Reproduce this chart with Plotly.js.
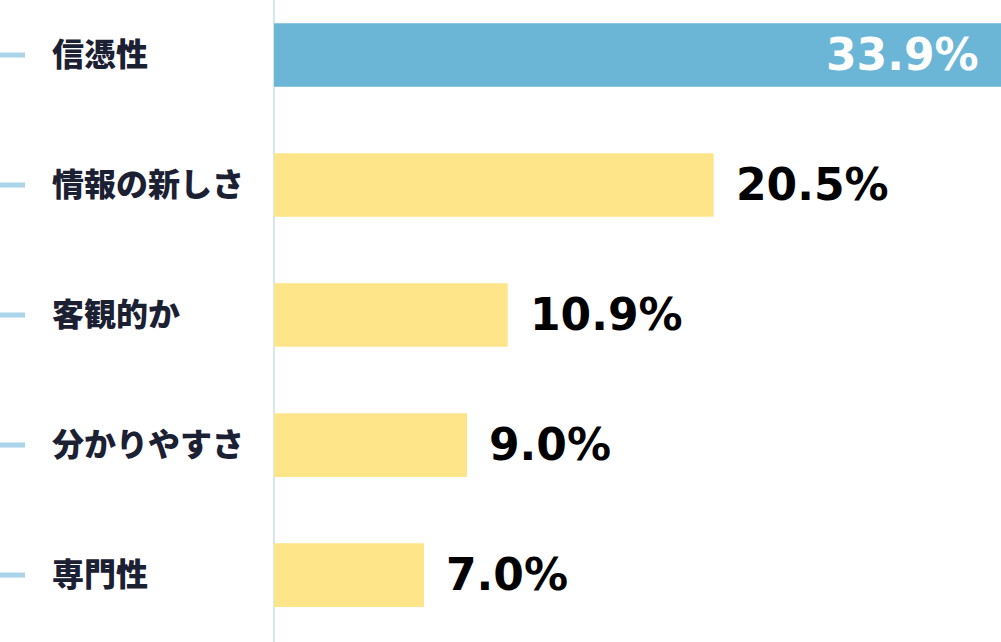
<!DOCTYPE html>
<html>
<head>
<meta charset="utf-8">
<script src="https://cdn.plot.ly/plotly-3.0.1.min.js"></script>
<style>html,body{margin:0;padding:0;background:#fff;}#chart{width:1001px;height:642px;}</style>
</head>
<body>
<div id="chart"></div>
<script>
const categories = ["信憑性", "情報の新しさ", "客観的か", "分かりやすさ", "専門性"];
const values = [33.9, 20.5, 10.9, 9.0, 7.0];
const valueLabels = ["33.9%", "20.5%", "10.9%", "9.0%", "7.0%"];
const barColors = ["#6bb6d7", "#ffe589", "#ffe589", "#ffe589", "#ffe589"];

const W = 1001, L = 274;
const plotW = W - L;
const px = p => (p - L) / plotW;

const trace = {
  type: "bar",
  orientation: "h",
  x: values,
  y: categories,
  width: 0.49,
  marker: {color: barColors, line: {width: 0}},
  hoverinfo: "none"
};

const annotations = [];
const shapes = [];
categories.forEach((c, i) => {
  annotations.push({
    xref: "paper", yref: "y", x: px(50), y: c, xanchor: "left", yanchor: "middle",
    yshift: 3,
    text: c, showarrow: false,
    font: {family: "Noto Sans CJK JP", size: 32, color: "#1b2033", weight: 900}
  });
  const inside = i === 0;
  annotations.push({
    xref: "x", yref: "y", x: values[i], y: c,
    xanchor: inside ? "right" : "left", yanchor: "middle",
    xshift: inside ? -20 : 20, yshift: 1,
    text: valueLabels[i], showarrow: false,
    font: {family: "DejaVu Sans", size: 44, color: inside ? "#ffffff" : "#000000", weight: 700}
  });
  shapes.push({
    type: "line", xref: "paper", yref: "y", x0: px(0), x1: px(25), y0: c, y1: c,
    line: {color: "#a9d4ea", width: 5}
  });
});
shapes.push({
  type: "line", xref: "paper", yref: "paper", x0: 0, x1: 0, y0: 0, y1: 1,
  line: {color: "#d6e7f0", width: 2}, layer: "below"
});

const layout = {
  width: 1001, height: 642,
  margin: {l: L, r: 0, t: 0, b: 0, pad: 0},
  paper_bgcolor: "#ffffff", plot_bgcolor: "#ffffff",
  showlegend: false,
  xaxis: {range: [0, 33.9], visible: false, fixedrange: true},
  yaxis: {type: "category", range: [4.515, -0.423], showticklabels: false, showgrid: false, zeroline: false, showline: false, ticks: "", fixedrange: true},
  annotations: annotations,
  shapes: shapes
};

Plotly.newPlot("chart", [trace], layout, {displayModeBar: false, staticPlot: true});
</script>
</body>
</html>
